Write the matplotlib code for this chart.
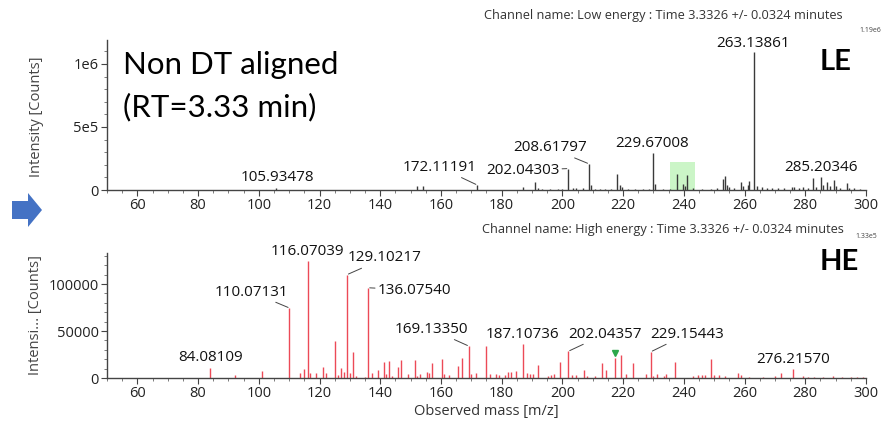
import matplotlib
matplotlib.use("Agg")
import matplotlib.pyplot as plt
from matplotlib.patches import Polygon, Rectangle
from matplotlib.ticker import MultipleLocator

# Low energy spectrum (m/z, counts)
le_mass = [105.6, 152.0, 154.2, 171.9, 187.1, 190.9, 192.0, 193.4, 196.0, 198.5, 200.0,
           201.9, 203.5, 204.6, 206.9, 208.7, 209.3, 210.6, 212.3, 214.0, 216.0, 218.1,
           218.9, 219.6, 221.5, 224.0, 226.5, 228.5, 229.9, 230.4, 233.0, 235.3, 237.8,
           239.7, 240.3, 241.1, 243.0, 246.0, 249.0, 251.0, 252.8, 253.6, 254.1, 254.9,
           256.5, 258.7, 259.5, 261.1, 261.6, 263.05, 264.0, 265.9, 267.5, 269.0, 271.0,
           273.0, 275.5, 276.4, 278.0, 279.2, 281.0, 282.7, 283.5, 285.2, 285.8, 287.1,
           288.2, 289.6, 290.2, 291.5, 293.6, 294.5, 296.0, 298.0]
le_int = [15000, 30000, 30000, 40000, 25000, 60000, 15000, 10000, 8000, 8000, 10000,
          170000, 15000, 12000, 15000, 208000, 40000, 10000, 10000, 8000, 9000, 130000,
          40000, 25000, 8000, 9000, 8000, 10000, 290000, 50000, 10000, 10000, 130000,
          50000, 30000, 122000, 12000, 9000, 10000, 12000, 86000, 112000, 40000, 25000,
          15000, 65000, 30000, 40000, 70000, 1094000, 35000, 20000, 15000, 12000, 15000,
          12000, 25000, 20000, 15000, 20000, 12000, 96000, 25000, 104000, 40000, 65000,
          30000, 78000, 30000, 15000, 52000, 15000, 12000, 10000]
le_labels = ["105.93478", "172.11191", "202.04303", "208.61797", "229.67008", "263.13861", "285.20346"]
le_label_peak = [105.6, 171.9, 201.9, 208.7, 229.9, 263.05, 285.2]
le_label_int = [15000, 40000, 170000, 208000, 290000, 1094000, 104000]

# High energy spectrum (m/z, counts)
he_mass = [84.08, 92.0, 101.0, 110.07, 113.5, 115.0, 116.07, 117.0, 119.0, 121.0, 122.0,
           125.0, 126.0, 127.0, 128.0, 129.1, 130.0, 131.0, 132.0, 135.0, 136.08, 137.2,
           139.2, 141.3, 142.0, 143.0, 144.0, 145.9, 147.0, 149.2, 151.4, 152.0, 153.1,
           155.4, 156.0, 157.0, 160.2, 161.0, 162.5, 165.6, 166.9, 169.13, 170.0, 171.5,
           174.8, 176.1, 178.1, 179.0, 181.1, 182.0, 183.0, 184.7, 187.1, 188.2, 189.3,
           190.2, 192.1, 195.2, 196.2, 197.2, 199.1, 202.0, 203.0, 204.4, 207.1, 208.1,
           210.7, 213.1, 214.2, 217.2, 219.4, 220.8, 223.1, 227.4, 229.2, 229.8, 231.3,
           233.4, 234.0, 237.0, 243.0, 244.5, 246.0, 247.0, 248.9, 250.0, 251.5, 253.5,
           258.0, 258.8, 261.6, 266.0, 269.9, 272.1, 276.1, 279.1, 281.0, 283.0, 286.0,
           289.0, 292.0, 295.0, 297.0, 299.0]
he_int = [11000, 3000, 7800, 74500, 5000, 10000, 124500, 5000, 5000, 12000, 5000,
          39000, 3000, 11000, 6000, 110000, 5000, 27500, 2000, 1500, 96000, 5000,
          8500, 17000, 4000, 18000, 2000, 12000, 19000, 4000, 19000, 2000, 4000,
          6700, 5000, 16000, 20000, 4000, 3000, 13000, 21500, 34000, 4000, 5000,
          34500, 4500, 4000, 3000, 3500, 6500, 6500, 7000, 36000, 5000, 4000,
          4000, 14000, 2500, 3000, 4000, 16500, 28500, 3000, 3500, 8500, 2000,
          2500, 16000, 8500, 21000, 24000, 4000, 15500, 4000, 28000, 2500, 4000,
          2000, 4000, 17500, 2500, 3000, 3500, 3000, 20000, 3500, 3000, 2500,
          5000, 3000, 1500, 1500, 2000, 5600, 9500, 2000, 1500, 1500, 1500,
          2000, 1500, 1500, 1500, 1500]
he_labels = ["84.08109", "110.07131", "116.07039", "129.10217", "136.07540", "169.13350",
             "187.10736", "202.04357", "229.15443", "276.21570"]
he_label_peak = [84.08, 110.07, 116.07, 129.1, 136.08, 169.13, 187.1, 202.0, 229.2, 276.1]
he_label_int = [11000, 74500, 124500, 110000, 96000, 34000, 36000, 28500, 28000, 9500]

# label placement (text centre, data units) and whether a leader line is drawn
le_text_x = [106.0, 159.6, 186.9, 195.8, 229.6, 262.8, 285.2]
le_text_y = [101000, 180000, 156000, 336000, 367000, 1166000, 180000]
le_leader = [False, True, True, True, False, False, False]
he_text_x = [84.0, 97.5, 115.9, 141.5, 151.3, 156.9, 186.9, 214.1, 241.1, 276.0]
he_text_y = [21300, 91500, 134400, 127700, 93600, 51800, 46800, 46800, 46800, 20200]
he_leader = [False, True, False, True, True, True, False, True, True, False]

plt.rcParams['font.family'] = ['Open Sans', 'DejaVu Sans']

fig = plt.figure(figsize=(8.84, 4.29), dpi=100)
W, H = 884, 429
ax1 = fig.add_axes([107 / W, 1 - 190 / H, 759 / W, 150 / H])
ax2 = fig.add_axes([107 / W, 1 - 378 / H, 759 / W, 125 / H])

ax1.vlines(le_mass, 0, le_int, color='#3a3a3a', lw=1)
ax2.vlines(he_mass, 0, he_int, color='#ec4a57', lw=1)

# highlighted region and marker
ax1.add_patch(Rectangle((235.5, 0), 8.2, 221000, color='#b6f2b0', alpha=0.7, lw=0, zorder=0))
ax2.plot([217.2], [26500], marker='v', color='#2aa84a', ms=5, ls='none')

ax1.set_ylim(0, 1.19e6)
ax2.set_ylim(0, 1.33e5)
for ax in (ax1, ax2):
    ax.set_xlim(50, 300)
    ax.spines['top'].set_visible(False)
    ax.spines['right'].set_visible(False)
    for s in ('left', 'bottom'):
        ax.spines[s].set_color('#444444')
        ax.spines[s].set_linewidth(1)
    ax.xaxis.set_major_locator(MultipleLocator(20))
    ax.xaxis.set_minor_locator(MultipleLocator(5))
    ax.tick_params(which='major', direction='out', length=4, color='#444444',
                   labelsize=10.5, labelcolor='#222222', pad=2)
    ax.tick_params(which='minor', direction='out', length=2, color='#666666')
    ax.set_facecolor('none')

ax1.set_xticks(range(60, 301, 20))
ax1.set_yticks([0, 5e5, 1e6])
ax1.set_yticklabels(['0', '5e5', '1e6'])
ax1.yaxis.set_minor_locator(MultipleLocator(1e5))
ax2.set_xticks(range(60, 301, 20))
ax2.set_yticks([0, 50000, 100000])
ax2.set_yticklabels(['0', '50000', '100000'])
ax2.yaxis.set_minor_locator(MultipleLocator(10000))

def put_labels(ax, labels, px, py, tx, ty, lead):
    for lab, x, y, a, b, l in zip(labels, px, py, tx, ty, lead):
        props = dict(arrowstyle='-', color='#444444', lw=0.7, shrinkA=0, shrinkB=1) if l else None
        ax.annotate(lab, xy=(x, y), xytext=(a, b), ha='center', va='center',
                    fontsize=11, color='#111111', arrowprops=props, annotation_clip=False)

put_labels(ax1, le_labels, le_label_peak, le_label_int, le_text_x, le_text_y, le_leader)
put_labels(ax2, he_labels, he_label_peak, he_label_int, he_text_x, he_text_y, he_leader)

# headers and annotations
fig.text(663 / W, 1 - 16 / H, 'Channel name: Low energy : Time 3.3326 +/- 0.0324 minutes',
         ha='center', va='center', fontsize=9.2, color='#333333')
fig.text(663 / W, 1 - 229 / H, 'Channel name: High energy : Time 3.3326 +/- 0.0324 minutes',
         ha='center', va='center', fontsize=9.2, color='#333333')
fig.text(870 / W, 1 - 30 / H, '1.19e6', ha='center', va='center', fontsize=5, color='#444444')
fig.text(866 / W, 1 - 237 / H, '1.33e5', ha='center', va='center', fontsize=5, color='#444444')
fig.text(836 / W, 1 - 62 / H, 'LE', ha='center', va='center', fontsize=21, fontweight='bold',
         family=['Lato', 'DejaVu Sans'], color='black')
fig.text(839 / W, 1 - 262 / H, 'HE', ha='center', va='center', fontsize=21, fontweight='bold',
         family=['Lato', 'DejaVu Sans'], color='black')
fig.text(123 / W, 1 - 65 / H, 'Non DT aligned', ha='left', va='center', fontsize=22.5,
         family=['Lato', 'DejaVu Sans'], color='black')
fig.text(123 / W, 1 - 107 / H, '(RT=3.33 min)', ha='left', va='center', fontsize=22.5,
         family=['Lato', 'DejaVu Sans'], color='black')

fig.text(36 / W, 1 - 117 / H, 'Intensity [Counts]', rotation=90, ha='center', va='center',
         fontsize=10.5, color='#444444')
fig.text(36 / W, 1 - 315 / H, 'Intensi... [Counts]', rotation=90, ha='center', va='center',
         fontsize=10.5, color='#444444')
fig.text(486 / W, 1 - 412 / H, 'Observed mass [m/z]', ha='center', va='center',
         fontsize=10.5, color='#333333')

# blue arrow at the left margin
arrow = [(12, 201), (28, 201), (28, 193), (42, 210), (28, 227), (28, 219), (12, 219)]
fig.add_artist(Polygon([(x / W, 1 - y / H) for x, y in arrow], closed=True,
                       transform=fig.transFigure, color='#4472c4', lw=0))

fig.savefig('out.png', dpi=100)
